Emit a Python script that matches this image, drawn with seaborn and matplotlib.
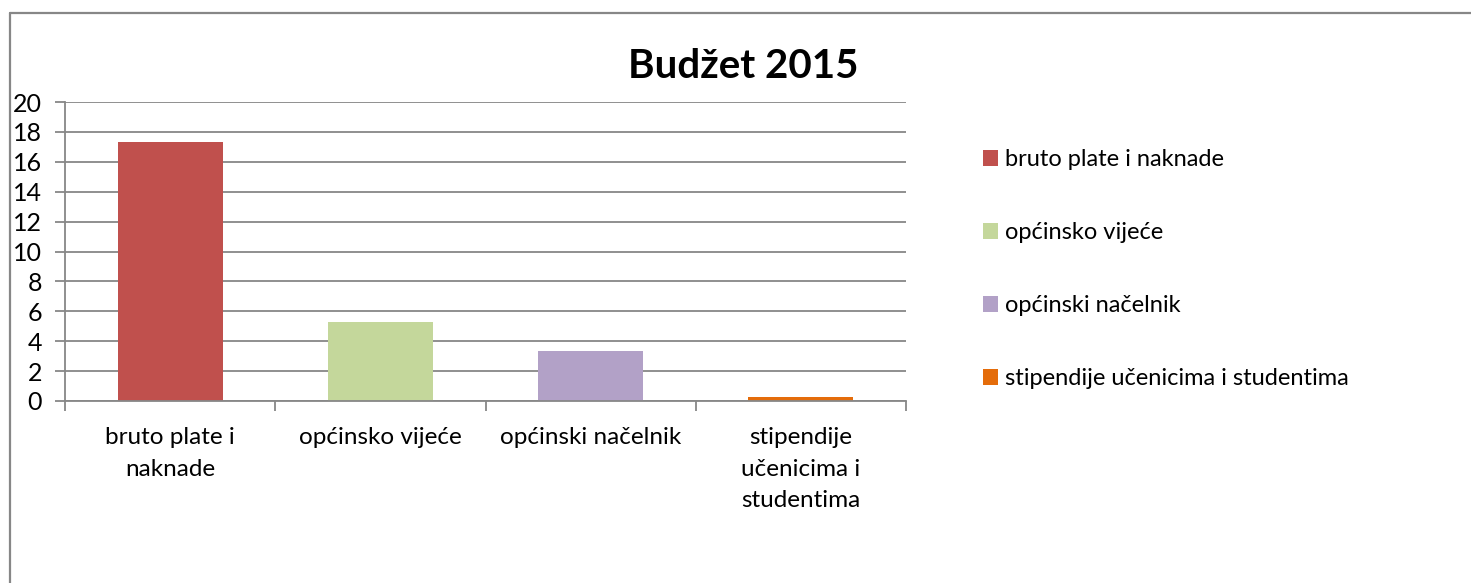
import matplotlib
matplotlib.use("Agg")
import matplotlib.pyplot as plt
import seaborn as sns
import pandas as pd
from matplotlib.lines import Line2D
from matplotlib.ticker import FixedLocator

categories = ["bruto plate i naknade", "općinsko vijeće", "općinski načelnik",
              "stipendije učenicima i studentima"]
tick_labels = ["bruto plate i\nnaknade", "općinsko vijeće", "općinski načelnik",
               "stipendije\nučenicima i\nstudentima"]
values = [17.35, 5.28, 3.33, 0.3]
colors = ["#C0504D", "#C4D79B", "#B2A1C7", "#E46C0A"]
title = "Budžet 2015"

sns.set_theme(style="white")
plt.rcParams['font.family'] = ['Lato', 'DejaVu Sans']
plt.rcParams['text.color'] = 'black'

df = pd.DataFrame({"cat": categories, "val": values})

fig = plt.figure(figsize=(14.71, 5.83), dpi=100)
ax = fig.add_axes([65/1471, 1-401/583, (906-65)/1471, (401-102)/583])

sns.barplot(data=df, x="cat", y="val", hue="cat", palette=colors,
            width=0.5, ax=ax, legend=True, saturation=1, linewidth=0)

ax.set_ylim(0, 20)
ax.set_xlim(-0.5, 3.5)
ax.set_yticks(range(0, 21, 2))
ax.set_xlabel("")
ax.set_ylabel("")
gray = "#878787"
ax.yaxis.grid(True, color=gray, linewidth=1.3)
ax.set_axisbelow(True)
for s in ["top", "right"]:
    ax.spines[s].set_visible(False)
for s in ["left", "bottom"]:
    ax.spines[s].set_color(gray)
    ax.spines[s].set_linewidth(1.3)

fs = 17
ax.set_xticks(range(4))
ax.set_xticklabels(tick_labels, fontsize=17.5, color="black", linespacing=1.62, va="top")
ax.tick_params(axis="x", which="major", length=0, pad=19)
ax.xaxis.set_minor_locator(FixedLocator([-0.5, 0.5, 1.5, 2.5, 3.5]))
ax.tick_params(axis="x", which="minor", length=7, color=gray, width=1.3, bottom=True)
ax.tick_params(axis="y", length=7, color=gray, width=1.3, left=True, labelsize=18,
               labelcolor="black", pad=9.5)

leg = ax.get_legend()
handles = leg.legend_handles
leg.remove()
fig.legend(handles, categories, loc="upper left", bbox_to_anchor=(974/1471, 1-140/583),
           frameon=False, fontsize=fs, handlelength=0.62, handleheight=0.62,
           handletextpad=0.3, labelspacing=2.2, borderaxespad=0, labelcolor="black")

fig.text(743/1471, 1-66/583, title, ha="center", va="center", fontsize=29,
         fontweight="bold", color="black")

fig.add_artist(Line2D([9.5/1471, 9.5/1471], [0, 1-13/583], color=gray, linewidth=1.6,
                      transform=fig.transFigure))
fig.add_artist(Line2D([9.5/1471, 1], [1-13/583, 1-13/583], color=gray, linewidth=1.6,
                      transform=fig.transFigure))

fig.savefig("out.png", dpi=100)
